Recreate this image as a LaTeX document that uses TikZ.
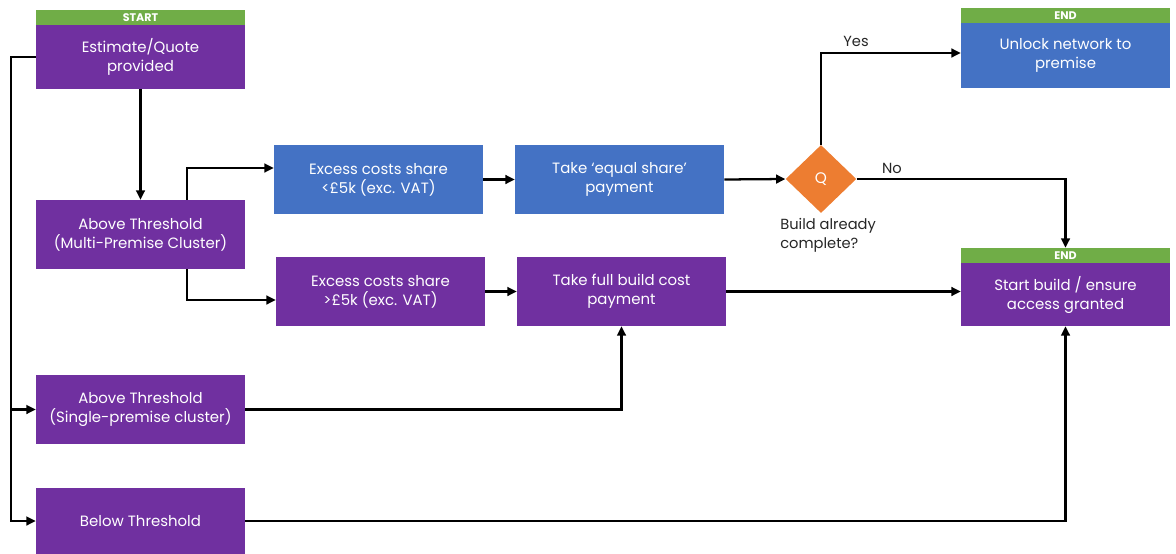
\documentclass[tikz,border=0pt]{standalone}
\usepackage{fontspec}
\setmainfont{Poppins}
\usetikzlibrary{arrows.meta,shapes.geometric}
\definecolor{pur}{HTML}{7030A0}
\definecolor{blu}{HTML}{4472C4}
\definecolor{grn}{HTML}{70AD47}
\definecolor{org}{HTML}{ED7D31}
\definecolor{lbl}{HTML}{262626}
\begin{document}
\begin{tikzpicture}[x=0.75pt,y=-0.75pt,
  box/.style={rectangle, minimum width=156.75pt, minimum height=51.75pt, text=white, align=center,
    font=\fontsize{11.2}{14.25}\selectfont, inner sep=0pt},
  purbox/.style={box, fill=pur},
  blubox/.style={box, fill=blu},
  bar/.style={rectangle, fill=grn, minimum width=156.75pt, minimum height=11.25pt, inner sep=0pt,
    text=white, font=\fontsize{8.3}{8.5}\selectfont\bfseries},
  qshape/.style={diamond, aspect=1, fill=org, minimum width=53pt, minimum height=51pt, inner sep=0pt,
    text=white, font=\fontsize{11.5}{12}\selectfont},
  lab/.style={text=lbl, font=\fontsize{11}{14.25}\selectfont, inner sep=0pt},
  arr/.style={draw=black, line width=1.7pt, -{Triangle[length=7pt,width=6.5pt]}},
  ln/.style={draw=black, line width=1.7pt}
]
\useasboundingbox (0,0) rectangle (1176,553);

% nodes
\node[bar] (startbar) at (140.5,17.5) {START};
\node[purbox, minimum height=48pt] (est) at (140.5,57) {Estimate/Quote\\provided};
\node[purbox] (multi) at (140.5,234.5) {Above Threshold\\(Multi-Premise Cluster)};
\node[blubox] (lt5) at (378.5,179.5) {Excess costs share\\<£5k (exc. VAT)};
\node[blubox] (eq) at (619.5,179.5) {Take ‘equal share’\\payment};
\node[qshape] (q) at (821,179) {Q};
\node[bar] (endbar1) at (1065.5,15.5) {END};
\node[blubox, minimum height=48.75pt] (unlock) at (1065.5,55.5) {Unlock network to\\premise};
\node[purbox] (gt5) at (380.5,291.5) {Excess costs share\\>£5k (exc. VAT)};
\node[purbox] (full) at (621.5,291.5) {Take full build cost\\payment};
\node[bar] (endbar2) at (1065.5,255.5) {END};
\node[purbox, minimum height=47.25pt] (sb) at (1065.5,294.5) {Start build / ensure\\access granted};
\node[purbox] (single) at (140.5,409.5) {Above Threshold\\(Single-premise cluster)};
\node[purbox, minimum height=49.5pt] (below) at (140.5,521) {Below Threshold};

% labels
\node[lab] (yes) at (856,41) {Yes};
\node[lab] (no) at (892,168) {No};
\node[lab, anchor=north west, align=left] (bac) at (780,218) {Build already\\complete?};

% helper coordinates
\coordinate (k1) at (187,168);
\coordinate (k2) at (187,300);
\coordinate (k3) at (11,0);
\coordinate (k4) at (0,53);

% connectors
\draw[arr] (est.south) -- (multi.north);
\draw[arr] (multi.north -| k1) |- (lt5.west |- k1);
\draw[arr] (multi.south -| k2) |- (gt5.west |- k2);
\draw[arr] (lt5.east) -- (eq.west);
\draw[arr] (eq.east) -- (q.west);
\draw[arr] (gt5.east) -- (full.west);
\draw[arr] (full.east) -- (full.east -| sb.west);
\draw[arr] (q.north) |- (unlock.west |- k4);
\draw[arr] (q.east) -| (endbar2.north);
\draw[arr] (est.west) -| (below.west -| k3) -- (below.west);
\draw[arr] (single.west -| k3) -- (single.west);
\draw[arr] (single.east) -| (full.south);
\draw[arr] (below.east) -| (sb.south);
\end{tikzpicture}
\end{document}
